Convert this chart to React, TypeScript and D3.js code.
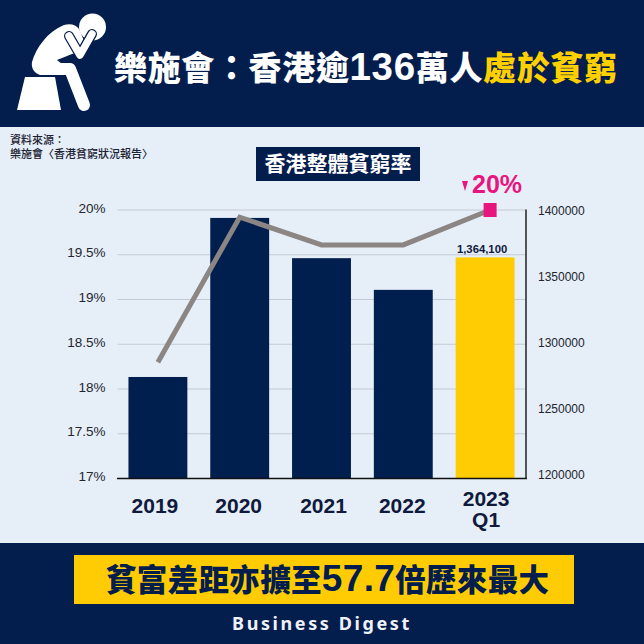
import React from 'react';
import * as d3 from 'd3';

const years = ['2019', '2020', '2021', '2022', '2023 Q1'];
const population = [1273500, 1394000, 1363500, 1339500, 1364100];
const povertyRate = [18.3, 19.92, 19.61, 19.61, 20];
const leftTicks = [17, 17.5, 18, 18.5, 19, 19.5, 20];
const rightTicks = [1200000, 1250000, 1300000, 1350000, 1400000];

const NAVY = '#031d4d';
const YELLOW = '#ffcc03';
const PINK = '#e8157f';
const BG = '#e6eef8';
const LATIN = '"Liberation Sans", Arial, sans-serif';
const TC = '"Noto Sans CJK TC", sans-serif';
const COLON = '\uFF1A';

const baseline = 478.5;

const x = d3.scaleBand<string>().domain(years).range([117, 526]).paddingInner(0.28).paddingOuter(0.14);
const yLeft = d3.scaleLinear().domain([17, 20]).range([baseline, 210]);
const yRight = d3.scaleLinear().domain([1200000, 1400000]).range([474, 210]);

const centre = (d: string) => (x(d) as number) + x.bandwidth() / 2;
// the line's last point sits a little right of the bar centre
const lineX = (d: string, i: number) => centre(d) + (i === years.length - 1 ? 5 : 0);
// year labels are not quite centred under the bars
const labelNudge = [-3, -1, 2, -1, 1];

const rateLine = d3.line<number>()
  .x((_, i) => lineX(years[i], i))
  .y(d => yLeft(d));

const PersonIcon = () => (
  <g>
    <circle cx={92.5} cy={27} r={13.5} fill="#fff" />
    <path d="M25 77 L55 77 L61 110 L17 110 Z" fill="#fff" />
    <path d="M32 62 C36 48 47 32 64 25 C71 23 76 25 79 29 L88 50 L72 54 L57 60 L62 64 L60 75 L40 75 C34 73 31 68 32 62 Z" fill="#fff" />
    <path d="M42 69 L70 69 L84 105" fill="none" stroke="#fff" strokeWidth={12} strokeLinecap="round" strokeLinejoin="round" />
    <path d="M69 36 L80 55 L92 34" fill="none" stroke={NAVY} strokeWidth={10} strokeLinecap="round" strokeLinejoin="round" />
    <path d="M69 36 L80 55 L92 34" fill="none" stroke="#fff" strokeWidth={7.5} strokeLinecap="round" strokeLinejoin="round" />
  </g>
);

export default function App() {
  const lastX = lineX(years[years.length - 1], years.length - 1);
  const lastY = yLeft(povertyRate[povertyRate.length - 1]);

  return (
    <svg width={644} height={644} style={{ position: 'absolute', left: 0, top: 0 }}>
      <rect width={644} height={644} fill={BG} />

      <rect width={644} height={127} fill={NAVY} />
      <PersonIcon />
      <text x={114} y={80} fontFamily={TC} fontSize={33} fontWeight={900} fill="#fff" textLength={503} lengthAdjust="spacing">
        {`樂施會${COLON}香港逾`}<tspan fontFamily={LATIN} fontSize={38.5} fontWeight={700}>136</tspan>萬人<tspan fill="#ffd000">處於貧窮</tspan>
      </text>

      <g fontFamily={TC} fontSize={11} fontWeight={500} fill="#1c2233">
        <text x={10} y={144}>{`資料來源${COLON}`}</text>
        <text x={10} y={158}>樂施會〈香港貧窮狀況報告〉</text>
      </g>

      <rect x={256} y={147} width={164} height={34} fill={NAVY} />
      <text x={338} y={171} textAnchor="middle" fontFamily={TC} fontSize={21} fontWeight={700} fill="#fff">香港整體貧窮率</text>

      {leftTicks.slice(1).map(t => (
        <line key={t} x1={117.5} x2={526} y1={yLeft(t)} y2={yLeft(t)} stroke="#c3cad5" strokeWidth={1} />
      ))}

      {years.map((d, i) => (
        <rect
          key={d}
          x={x(d)}
          y={yRight(population[i])}
          width={x.bandwidth()}
          height={baseline - yRight(population[i])}
          fill={i === years.length - 1 ? YELLOW : '#001f4f'}
        />
      ))}

      <line x1={117} x2={527} y1={baseline} y2={baseline} stroke="#111" strokeWidth={1.5} />
      <line x1={526} x2={526} y1={209.5} y2={baseline} stroke="#222" strokeWidth={1.5} />

      <path d={rateLine(povertyRate) as string} fill="none" stroke="#8b8684" strokeWidth={5} />
      <rect x={lastX - 6.5} y={lastY - 7} width={13} height={14} fill={PINK} />

      <g fontFamily={LATIN} fontSize={13.5} fill="#23262e" textAnchor="end">
        {leftTicks.map(t => (
          <text key={t} x={105.5} y={yLeft(t) + 2.5}>{`${t}%`}</text>
        ))}
      </g>

      <g fontFamily={LATIN} fontSize={12} fill="#23262e">
        {rightTicks.map(t => (
          <text key={t} x={538} y={yRight(t) + 4.5}>{t}</text>
        ))}
      </g>

      <g fontFamily={LATIN} fontSize={21} fontWeight={700} fill="#0f1a3c" textAnchor="middle">
        {years.map((d, i) => {
          const cx = centre(d) + labelNudge[i];
          const parts = d.split(' ');
          if (parts.length === 1) return <text key={d} x={cx} y={513}>{d}</text>;
          return (
            <text key={d} x={cx}>
              <tspan x={cx} y={505.5}>{parts[0]}</tspan>
              <tspan x={cx} y={526.5}>{parts[1]}</tspan>
            </text>
          );
        })}
      </g>

      <text x={centre(years[4]) - 3} y={253} textAnchor="middle" fontFamily={LATIN} fontSize={11.3} fontWeight={700} fill="#0f1a3c">
        {d3.format(',')(population[population.length - 1])}
      </text>

      <path d="M462 181 L468 181 L465 191 Z" fill={PINK} />
      <text x={472} y={193} fontFamily={LATIN} fontSize={25} fontWeight={700} fill={PINK}>20%</text>

      <rect y={543} width={644} height={101} fill={NAVY} />
      <rect x={74} y={555} width={500} height={49} fill={YELLOW} />
      <text x={106} y={591} fontFamily={TC} fontSize={30.5} fontWeight={900} fill={NAVY} textLength={443} lengthAdjust="spacing">
        貧富差距亦擴至<tspan fontFamily={LATIN} fontSize={37} fontWeight={700}>57.7</tspan>倍歷來最大
      </text>
      <text x={322} y={630} textAnchor="middle" fontFamily='"Noto Sans", sans-serif' fontSize={18} fontWeight={700} letterSpacing={2.6} fill="#eef2f8">
        Business Digest
      </text>
    </svg>
  );
}
